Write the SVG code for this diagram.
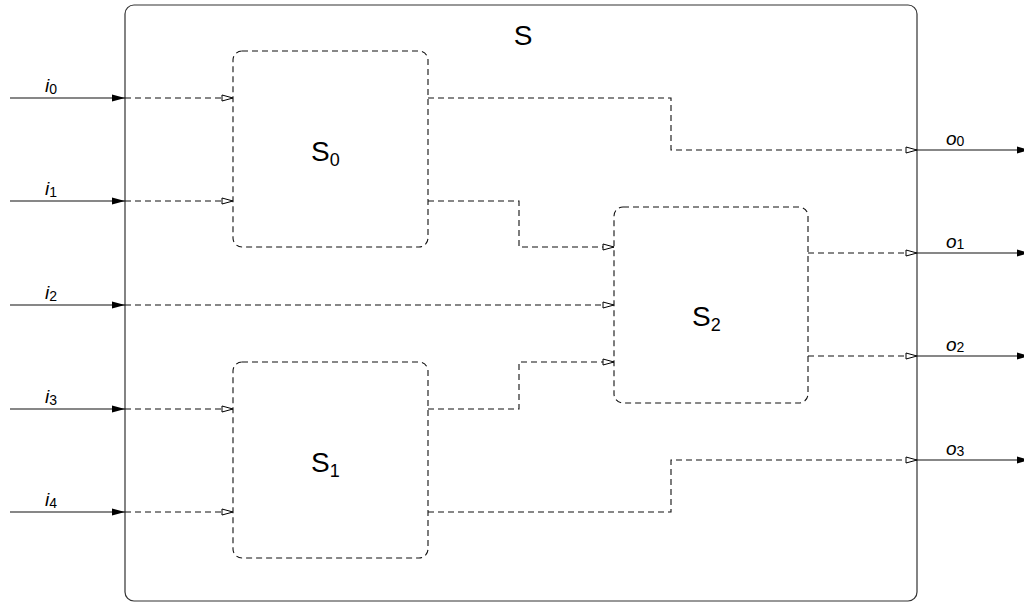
<svg xmlns="http://www.w3.org/2000/svg" width="1024" height="603" viewBox="0 0 1024 603">
<style>
.frame{fill:none;stroke:#333;stroke-width:1.2}
.box{fill:none;stroke:#111;stroke-width:1.1;stroke-dasharray:6,4}
.solid{fill:none;stroke:#111;stroke-width:1.2}
.dash{fill:none;stroke:#111;stroke-width:1.1;stroke-dasharray:6,4}
.big{font-family:"Liberation Sans",Arial,sans-serif;font-size:28px;fill:#000}
.sub{font-family:"Liberation Sans",Arial,sans-serif;font-size:18px;fill:#000}
.lab{font-family:"Liberation Sans",Arial,sans-serif;font-size:19px;font-style:italic;fill:#000}
.lsub{font-family:"Liberation Sans",Arial,sans-serif;font-size:14px;font-style:normal;fill:#000}
</style>
<defs>
<marker id="fill" markerWidth="14" markerHeight="8" refX="13" refY="4" orient="auto" markerUnits="userSpaceOnUse">
<path d="M0,0.5 L13,4 L0,7.5 Z" fill="#000"/>
</marker>
<marker id="open" markerWidth="13" markerHeight="8" refX="12" refY="4" orient="auto" markerUnits="userSpaceOnUse">
<path d="M1,1 L12,4 L1,7 Z" fill="#fff" stroke="#000" stroke-width="1"/>
</marker>
</defs>
<g id="S">
<rect class="frame" x="125" y="5" width="792" height="596" rx="9"/>
<text class="big" x="523" y="45" text-anchor="middle">S</text>
</g>
<g id="S0">
<rect class="box" x="233" y="51" width="195" height="196" rx="9"/>
<text x="311" y="161"><tspan class="big">S</tspan><tspan class="sub" dy="5">0</tspan></text>
</g>
<g id="S1">
<rect class="box" x="233" y="362" width="195" height="196" rx="9"/>
<text x="311" y="472"><tspan class="big">S</tspan><tspan class="sub" dy="5">1</tspan></text>
</g>
<g id="S2">
<rect class="box" x="614" y="207" width="194" height="196" rx="9"/>
<text x="692" y="326"><tspan class="big">S</tspan><tspan class="sub" dy="5">2</tspan></text>
</g>
<g id="connectors">
<path class="solid" d="M10,98 H125" marker-end="url(#fill)"/>
<path class="solid" d="M10,201 H125" marker-end="url(#fill)"/>
<path class="solid" d="M10,305 H125" marker-end="url(#fill)"/>
<path class="solid" d="M10,409 H125" marker-end="url(#fill)"/>
<path class="solid" d="M10,512 H125" marker-end="url(#fill)"/>
<path class="dash" d="M125,98 H233" marker-end="url(#open)"/>
<path class="dash" d="M125,201 H233" marker-end="url(#open)"/>
<path class="dash" d="M125,409 H233" marker-end="url(#open)"/>
<path class="dash" d="M125,512 H233" marker-end="url(#open)"/>
<path class="dash" d="M125,305 H614" marker-end="url(#open)"/>
<path class="dash" d="M428,98 H671 V150 H917" marker-end="url(#open)"/>
<path class="dash" d="M428,201 H519 V247 H614" marker-end="url(#open)"/>
<path class="dash" d="M428,409 H519 V362 H614" marker-end="url(#open)"/>
<path class="dash" d="M428,512 H671 V460 H917" marker-end="url(#open)"/>
<path class="dash" d="M808,253 H917" marker-end="url(#open)"/>
<path class="dash" d="M808,356 H917" marker-end="url(#open)"/>
<path class="solid" d="M917,150 H1030" marker-end="url(#fill)"/>
<path class="solid" d="M917,253 H1030" marker-end="url(#fill)"/>
<path class="solid" d="M917,356 H1030" marker-end="url(#fill)"/>
<path class="solid" d="M917,460 H1030" marker-end="url(#fill)"/>
</g>
<g id="labels">
<text class="lab" x="45" y="92">i<tspan class="lsub" dy="2">0</tspan></text>
<text class="lab" x="45" y="195">i<tspan class="lsub" dy="2">1</tspan></text>
<text class="lab" x="45" y="299">i<tspan class="lsub" dy="2">2</tspan></text>
<text class="lab" x="45" y="403">i<tspan class="lsub" dy="2">3</tspan></text>
<text class="lab" x="45" y="506">i<tspan class="lsub" dy="2">4</tspan></text>
<text class="lab" x="946" y="145">o<tspan class="lsub" dy="1">0</tspan></text>
<text class="lab" x="946" y="248">o<tspan class="lsub" dy="1">1</tspan></text>
<text class="lab" x="946" y="351">o<tspan class="lsub" dy="1">2</tspan></text>
<text class="lab" x="946" y="455">o<tspan class="lsub" dy="1">3</tspan></text>
</g>
</svg>
